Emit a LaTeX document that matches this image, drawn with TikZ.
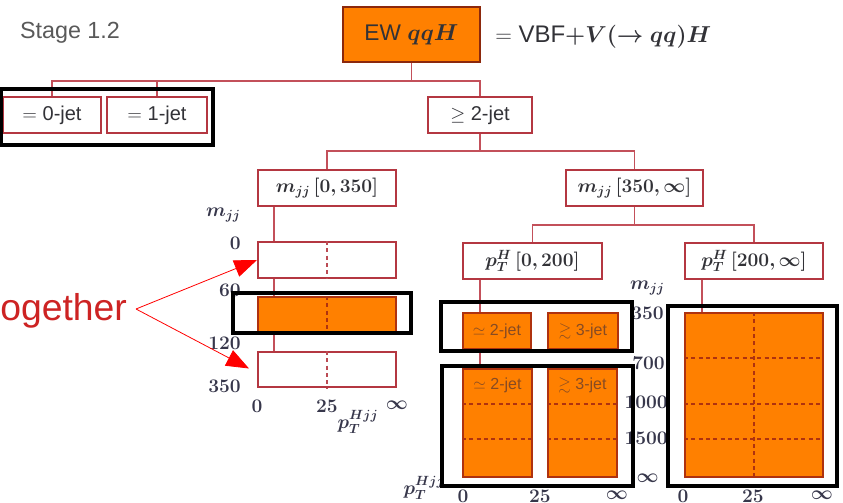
\documentclass[tikz,border=0pt]{standalone}
\usepackage{amsmath,amssymb,bm}
\usepackage{fontspec}
\newfontfamily\sansf{Liberation Sans}
\usetikzlibrary{arrows.meta,calc}
\definecolor{orng}{RGB}{255,128,0}
\definecolor{bxred}{RGB}{180,55,65}
\definecolor{lnred}{RGB}{195,80,90}
\definecolor{obord}{RGB}{175,50,15}
\definecolor{txt}{RGB}{50,50,55}
\definecolor{axt}{RGB}{55,55,75}
\definecolor{otxt}{RGB}{135,75,35}
\definecolor{annred}{RGB}{205,35,35}
\begin{document}
\begin{tikzpicture}[x=0.75pt,y=-0.75pt,
  sz/.style 2 args={minimum width={#1*0.75pt},minimum height={#2*0.75pt},inner sep=0pt},
  wbox/.style={draw=bxred,fill=white,line width=1.5pt,text=txt},
  obox/.style={draw=obord,fill=orng,line width=1.5pt,text=otxt},
  tbox/.style={draw=obord!80!black,fill=orng,line width=1.5pt,text=txt},
  slbl/.style={font=\sansf\fontsize{15}{18}\selectfont},
  mlbl/.style={font=\fontsize{14.5}{17}\selectfont},
  olbl/.style={font=\sansf\fontsize{12}{14}\selectfont},
  axl/.style={font=\fontsize{14}{16}\selectfont,text=axt,inner sep=0pt},
  conn/.style={draw=lnred,line width=1.2pt},
  wdash/.style={draw=bxred!90,line width=1.2pt,dash pattern=on 3pt off 2.5pt},
  odash/.style={draw=obord,line width=1.2pt,dash pattern=on 3pt off 2.5pt},
  hl/.style={draw=black,line width=3pt},
  ann/.style={draw=red,line width=0.6pt,-{Triangle[length=17pt,width=13pt]}}]
\useasboundingbox (0,0) rectangle (843,503);

% titles
\node[text=black!65,font=\sansf\fontsize{17.5}{20}\selectfont] (stage) at (70,33) {Stage 1.2};
\node[tbox,sz={137}{55},font=\sansf\fontsize{17}{20}\selectfont] (top) at (411.5,34.5) {EW $\bm{qqH}$};
\node[anchor=west,text=txt,font=\sansf\fontsize{18}{21}\selectfont,inner sep=0pt] (eqn) at (495,37) {$=$ VBF$\bm{+V(\rightarrow qq)H}$};

% level 1
\node[wbox,sz={98}{36},slbl] (eq0) at (52,115) {$=$ 0-jet};
\node[wbox,sz={100}{36},slbl] (eq1) at (157,115) {$=$ 1-jet};
\node[wbox,sz={104}{36},slbl] (ge2) at (480,115) {$\geq$ 2-jet};

% level 2
\node[wbox,sz={138}{36},mlbl] (mjjA) at (327,188) {$\bm{m_{jj}\,[0,350]}$};
\node[wbox,sz={137}{36},mlbl] (mjjB) at (634.5,188) {$\bm{m_{jj}\,[350,\infty]}$};

% level 3
\node[wbox,sz={139}{36},mlbl] (ptA) at (532.5,261) {$\bm{p_T^H\,[0,200]}$};
\node[wbox,sz={138}{36},mlbl] (ptB) at (754,261) {$\bm{p_T^H\,[200,\infty]}$};

% left column bins
\node[wbox,sz={138}{36}] (L1) at (327,260) {};
\node[obox,sz={138}{35}] (L2) at (327,314.5) {};
\node[wbox,sz={138}{35}] (L3) at (327,369.5) {};
\draw[wdash] (L1.north) -- (L1.south);
\draw[odash] (L2.north) -- (L2.south);
\draw[wdash] (L3.north) -- (L3.south);

% middle column bins
\node[obox,sz={68}{36},olbl] (M1a) at (497,331) {$\simeq$ 2-jet};
\node[obox,sz={70}{36},olbl] (M1b) at (583,331) {$\gtrsim$ 3-jet};
\node[obox,sz={69}{108}] (M2a) at (497.5,423) {};
\node[obox,sz={69}{108}] (M2b) at (582.5,423) {};
\node[olbl,text=otxt] (M2at) at (497.5,385) {$\simeq$ 2-jet};
\node[olbl,text=otxt] (M2bt) at (582.5,385) {$\gtrsim$ 3-jet};
\draw[odash] ($(M2a.north west)+(0,36)$) -- ($(M2a.north east)+(0,36)$);
\draw[odash] ($(M2a.north west)+(0,71)$) -- ($(M2a.north east)+(0,71)$);
\draw[odash] ($(M2b.north west)+(0,36)$) -- ($(M2b.north east)+(0,36)$);
\draw[odash] ($(M2b.north west)+(0,71)$) -- ($(M2b.north east)+(0,71)$);

% right column bin
\node[obox,sz={138}{164}] (R) at (754,395) {};
\draw[odash] (R.north) -- (R.south);
\draw[odash] ($(R.north west)+(0,46)$) -- ($(R.north east)+(0,46)$);
\draw[odash] ($(R.north west)+(0,92)$) -- ($(R.north east)+(0,92)$);
\draw[odash] ($(R.north west)+(0,127)$) -- ($(R.north east)+(0,127)$);

% connectors
\coordinate (j1) at ($(top.south)+(0,18)$);
\draw[conn] (top.south) -- (j1);
\draw[conn] (eq0.north) |- (j1) -| (ge2.north);
\draw[conn] (eq1.north) -- (eq1.north |- j1);
\coordinate (j2) at ($(ge2.south)+(0,17)$);
\draw[conn] (ge2.south) -- (j2);
\draw[conn] (mjjA.north) |- (j2) -| (mjjB.north);
\coordinate (j3) at ($(mjjB.south)+(0,18)$);
\draw[conn] (mjjB.south) -- (j3);
\draw[conn] (ptA.north) |- (j3) -| (ptB.north);
\draw[conn] ($(mjjA.south west)+(17,0)$) -- ($(L1.north west)+(17,0)$);
\draw[conn] ($(L1.south west)+(17,0)$) -- ($(L2.north west)+(17,0)$);
\draw[conn] ($(L2.south west)+(17,0)$) -- ($(L3.north west)+(17,0)$);
\draw[conn] ($(ptA.south west)+(18,0)$) -- ($(M1a.north west)+(18,0)$);
\draw[conn] ($(M1a.south west)+(18,0)$) -- ($(M2a.north west)+(18,0)$);
\draw[conn] ($(ptB.south west)+(18,0)$) -- ($(R.north west)+(18,0)$);

% left axis labels
\node[axl,anchor=east] (lm) at (241,215) {$\bm{m_{jj}}$};
\node[axl,anchor=east] (l0) at (241,243) {$\bm{0}$};
\node[axl,anchor=east] (l60) at (241,290) {$\bm{60}$};
\node[axl,anchor=east] (l120) at (241,343) {$\bm{120}$};
\node[axl,anchor=east] (l350) at (241,386) {$\bm{350}$};
\node[axl] (lb0) at (257,406) {$\bm{0}$};
\node[axl] (lb25) at (327,406) {$\bm{25}$};
\node[axl] (lbinf) at (397,405) {$\bm{\infty}$};
\node[axl] (lpt) at (358,422) {$\bm{p_T^{Hjj}}$};

% middle / right axis labels
\node[axl,anchor=east] (rm) at (665,288) {$\bm{m_{jj}}$};
\node[axl,anchor=east] (r350) at (664,313) {$\bm{350}$};
\node[axl,anchor=east] (r700) at (665,363) {$\bm{700}$};
\node[axl,anchor=east] (r1000) at (668,402) {$\bm{1000}$};
\node[axl,anchor=east] (r1500) at (668,438) {$\bm{1500}$};
\node[axl,anchor=east] (rinf) at (659,478) {$\bm{\infty}$};
\node[axl] (mpt) at (424,488) {$\bm{p_T^{Hjj}}$};
\node[axl] (mb0) at (463,496) {$\bm{0}$};
\node[axl] (mb25) at (540,496) {$\bm{25}$};
\node[axl] (mbinf) at (617,495) {$\bm{\infty}$};
\node[axl] (rb0) at (683,496) {$\bm{0}$};
\node[axl] (rb25) at (753,496) {$\bm{25}$};
\node[axl] (rbinf) at (822,495) {$\bm{\infty}$};

% highlight frames
\draw[hl] (1,89) rectangle (213,145);
\draw[hl] (233,293) rectangle (411,333);
\draw[hl] (441,302) rectangle (632,351);
\draw[hl] (442,366) rectangle (633,486);
\draw[hl] (668,306) rectangle (837,486);

% annotation
\node[anchor=west,inner sep=0pt,text=annred,font=\sansf\fontsize{28}{31}\selectfont] (tog) at (0,311) {ogether};
\coordinate (tg) at (136,309);
\draw[ann] (tg) -- (L1.west);
\draw[ann] (tg) -- ($(L3.west)+(-8,-1)$);
\end{tikzpicture}
\end{document}
